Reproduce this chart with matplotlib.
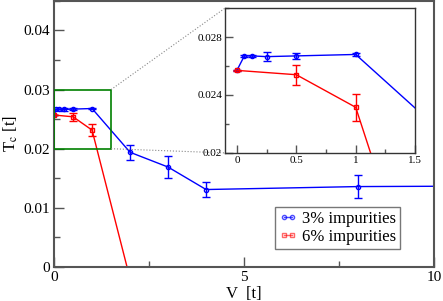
import numpy as np
import matplotlib as mpl
mpl.use('Agg')
import matplotlib.pyplot as plt
from matplotlib.patches import Rectangle
from matplotlib.lines import Line2D
from matplotlib.ticker import MultipleLocator

plt.rcParams['font.family'] = 'Liberation Serif'
plt.rcParams['mathtext.fontset'] = 'stix'

# data
v_3 = [0, 0.0625, 0.125, 0.25, 0.5, 1, 2, 3, 4, 8, 12]
tc_3 = [0.0257, 0.0267, 0.0267, 0.02665, 0.0267, 0.0268, 0.0194, 0.0169, 0.0131, 0.0136, 0.0137]
err_3 = [0.00005, 0.00005, 0.00005, 0.0003, 0.00022, 0.0001, 0.0013, 0.0019, 0.0012, 0.0019, 0.0]

v_6 = [0, 0.5, 1, 2]
tc_6 = [0.0257, 0.0254, 0.02315, -0.0020]
err_6 = [0.00005, 0.0007, 0.00095, 0.0]

spine_col = '#555555'

fig = plt.figure(figsize=(4.43, 3.01), dpi=100)
ax = fig.add_axes([0.122, 0.113, 0.858, 0.884])

ax.errorbar(v_3, tc_3, yerr=err_3, color='blue', lw=1, marker='o', ms=3,
            mfc='none', mew=1, capsize=3, elinewidth=1)
ax.errorbar(v_6, tc_6, yerr=err_6, color='red', lw=1, marker='s', ms=3,
            mfc='none', mew=1, capsize=3, elinewidth=1)

ax.set_xlim(0, 10)
ax.set_ylim(0, 0.045)
ax.xaxis.set_major_locator(MultipleLocator(5))
ax.xaxis.set_minor_locator(MultipleLocator(2.5))
ax.yaxis.set_minor_locator(MultipleLocator(0.005))
ax.set_yticks([0, 0.01, 0.02, 0.03, 0.04])
ax.set_yticklabels(['0', '0.01', '0.02', '0.03', '0.04'])
ax.tick_params(direction='in', which='major', length=7, width=1, color=spine_col,
               labelsize=11, pad=3)
ax.tick_params(direction='in', which='minor', length=4, width=1, color=spine_col)
for s in ax.spines.values():
    s.set_color(spine_col)
    s.set_linewidth(1.5)

ax.set_xlabel('V  [t]', fontsize=12, labelpad=1)
ax.set_ylabel(r'T$_{\rm c}$ [t]', fontsize=12, labelpad=2)

# zoom box
ax.add_patch(Rectangle((0, 0.02), 1.5, 0.01, fill=False, ec='green', lw=1.2, zorder=5))

handles = [
    Line2D([], [], color='blue', lw=1, marker='o', ms=3, mfc='none', mew=1, alpha=0.7),
    Line2D([], [], color='red', lw=1, marker='s', ms=3, mfc='none', mew=1, alpha=0.6),
]
leg = ax.legend(handles, ['3% impurities', '6% impurities'], loc='lower right',
                bbox_to_anchor=(0.91, 0.068), borderaxespad=0, fontsize=12,
                numpoints=2, handlelength=1.1, handletextpad=0.25, borderpad=0.25,
                labelspacing=0.1, fancybox=False, framealpha=1,
                edgecolor='#777777')
leg.get_frame().set_linewidth(1)

# inset
axin = fig.add_axes([0.508, 0.492, 0.429, 0.481])
axin.errorbar(v_3, tc_3, yerr=err_3, color='blue', lw=1, marker='o', ms=3,
              mfc='none', mew=1, capsize=3, elinewidth=1)
axin.errorbar(v_6, tc_6, yerr=err_6, color='red', lw=1, marker='s', ms=3,
              mfc='none', mew=1, capsize=3, elinewidth=1)
axin.set_xlim(-0.1, 1.5)
axin.set_ylim(0.02, 0.03)
axin.set_xticks([0, 0.5, 1, 1.5])
axin.set_xticklabels(['0', '0.5', '1', '1.5'])
axin.xaxis.set_minor_locator(MultipleLocator(0.25))
axin.set_yticks([0.02, 0.024, 0.028])
axin.set_yticklabels(['0.02', '0.024', '0.028'])
axin.yaxis.set_minor_locator(MultipleLocator(0.002))
axin.tick_params(direction='in', which='major', length=6, width=1, color=spine_col,
                 labelsize=8, pad=2)
axin.tick_params(direction='in', which='minor', length=3, width=1, color=spine_col)
for s in axin.spines.values():
    s.set_color('#333333')
    s.set_linewidth(1)

# dotted connectors from zoom box to inset
for (xa, ya), (xb, yb) in [((1.5, 0.03), (-0.1, 0.03)), ((1.5, 0.02), (-0.1, 0.02))]:
    p1 = fig.transFigure.inverted().transform(ax.transData.transform((xa, ya)))
    p2 = fig.transFigure.inverted().transform(axin.transData.transform((xb, yb)))
    fig.add_artist(Line2D([p1[0], p2[0]], [p1[1], p2[1]], transform=fig.transFigure,
                          color='#888888', lw=0.8, ls=':'))

fig.savefig('out.png', dpi=100)
